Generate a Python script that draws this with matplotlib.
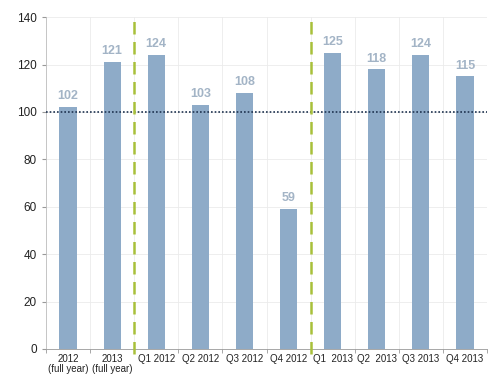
import matplotlib.pyplot as plt
import numpy as np

plt.rcParams['font.family'] = ['Liberation Sans', 'DejaVu Sans']

labels = ['2012\n(full year)', '2013\n(full year)', 'Q1 2012', 'Q2 2012', 'Q3 2012',
          'Q4 2012', 'Q1  2013', 'Q2  2013', 'Q3 2013', 'Q4 2013']
values = [102, 121, 124, 103, 108, 59, 125, 118, 124, 115]
separators = [1.5, 5.5]
reference = 100

fig = plt.figure(figsize=(5, 3.89), dpi=100)
ax = fig.add_axes([0.092, 0.103, 0.882, 0.853])

x = np.arange(len(values))
ax.bar(x, values, width=0.39, color='#8eabc8', zorder=3)

for xi, v in zip(x, values):
    ax.text(xi, v + 2, str(v), ha='center', va='bottom', fontsize=9,
            fontweight='bold', color='#a3b4c6', zorder=4)

ax.axhline(reference, color='#1f3350', linestyle=(0, (1, 1.2)), linewidth=1.2, zorder=4)
for s in separators:
    ax.plot([s, s], [-2, 140], color='#a8c03a', linestyle=(0, (5, 3)),
            linewidth=1.8, zorder=5, clip_on=False)

ax.set_xlim(-0.5, len(values) - 0.5)
ax.set_ylim(0, 140)
ax.set_yticks(range(0, 141, 20))

# gridlines at category boundaries
bounds = np.arange(-0.5, len(values), 1.0)
for b in bounds[1:]:
    ax.axvline(b, color='#ebebeb', linewidth=0.6, zorder=1)
ax.yaxis.grid(True, color='#ebebeb', linewidth=0.6, zorder=1)

ax.set_xticks(x)
ax.set_xticklabels(labels, fontsize=7, color='#222222', linespacing=1.0)
ax.tick_params(axis='x', length=0, pad=4)
ax.set_xticks(bounds, minor=True)
ax.tick_params(axis='x', which='minor', length=3, color='#999999')
ax.tick_params(axis='y', labelsize=8.5, length=3, color='#999999', labelcolor='#222222')

for side in ['top', 'right']:
    ax.spines[side].set_visible(False)
ax.spines['left'].set_color('#bbbbbb')
ax.spines['bottom'].set_color('#999999')
ax.spines['left'].set_linewidth(0.6)
ax.spines['bottom'].set_linewidth(0.6)

fig.savefig('out.png', dpi=100)
